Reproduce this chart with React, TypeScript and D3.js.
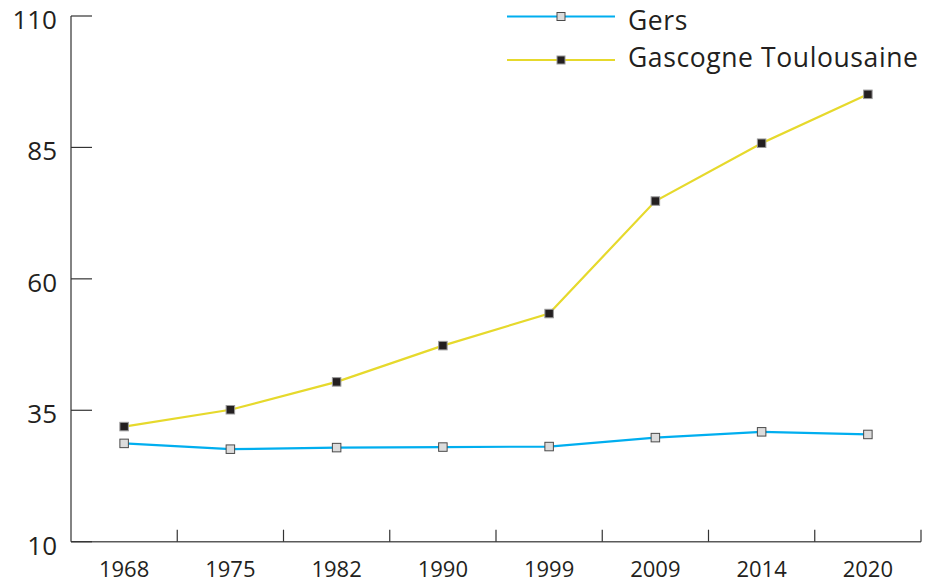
import * as d3 from 'd3';

const YEARS = ['1968', '1975', '1982', '1990', '1999', '2009', '2014', '2020'];
const GERS = [28.7, 27.6, 27.9, 28.0, 28.1, 29.8, 30.9, 30.4];
const GASCOGNE = [31.9, 35.1, 40.4, 47.3, 53.4, 74.8, 85.8, 95.1];
const Y_TICKS = [10, 35, 60, 85, 110];

const WIDTH = 936;
const HEIGHT = 583;
const LEFT = 71;
const RIGHT = 921;
const TOP = 16;
const BOTTOM = 541.7;
const TEXT = '#231f20';
const FONT = '"Open Sans", "Noto Sans", sans-serif';

const series = [
  {name: 'Gers', values: GERS, stroke: '#00aeef', fill: '#dcdcdc', edge: '#4a4a4a', legendY: 16.5, textY: 29.8},
  {name: 'Gascogne Toulousaine', values: GASCOGNE, stroke: '#e6d92c', fill: '#231f20', edge: '#9a9a9a', legendY: 60, textY: 66.5},
];

export default function App() {
  const x = d3.scaleBand().domain(YEARS).range([LEFT, RIGHT]);
  const y = d3.scaleLinear().domain([10, 110]).range([BOTTOM, TOP]);
  const cx = (year: string) => (x(year) ?? 0) + x.bandwidth() / 2;

  const line = d3
    .line<number>()
    .x((_, i) => cx(YEARS[i]))
    .y((d) => y(d));

  const size = 8.5;

  return (
    <svg
      width={WIDTH}
      height={HEIGHT}
      style={{position: 'absolute', left: 0, top: 0}}
      fontFamily={FONT}
    >
      {/* axes */}
      <line x1={LEFT} x2={LEFT} y1={TOP} y2={BOTTOM} stroke="#5a5a5a" strokeWidth={1.5} />
      <line x1={LEFT} x2={RIGHT} y1={BOTTOM} y2={BOTTOM} stroke="#5a5a5a" strokeWidth={1.5} />
      {Y_TICKS.map((t) => (
        <g key={t}>
          <line x1={LEFT} x2={LEFT + 21} y1={y(t)} y2={y(t)} stroke="#333" strokeWidth={1.2} />
          <text x={LEFT - 14} y={y(t)} dy="0.5em" textAnchor="end" fontSize={26} fill={TEXT}>
            {t}
          </text>
        </g>
      ))}
      {YEARS.map((yr, i) => {
        const edge = (x(yr) ?? 0) + x.bandwidth();
        return (
          <g key={yr}>
            <line x1={edge} x2={edge} y1={BOTTOM} y2={BOTTOM - 12} stroke="#333" strokeWidth={1.2} />
            <text x={cx(yr)} y={BOTTOM + 35} textAnchor="middle" fontSize={22} fill={TEXT}>
              {YEARS[i]}
            </text>
          </g>
        );
      })}

      {/* series */}
      {series.map((s) => (
        <g key={s.name}>
          <path d={line(s.values)!} fill="none" stroke={s.stroke} strokeWidth={2.2} />
          {s.values.map((v, i) => (
            <rect
              key={i}
              x={cx(YEARS[i]) - size / 2}
              y={y(v) - size / 2}
              width={size}
              height={size}
              fill={s.fill}
              stroke={s.edge}
              strokeWidth={1}
            />
          ))}
        </g>
      ))}

      {/* legend */}
      {series.map((s) => (
        <g key={'lg' + s.name}>
          <line x1={507} x2={615} y1={s.legendY} y2={s.legendY} stroke={s.stroke} strokeWidth={2.2} />
          <rect x={561 - 4} y={s.legendY - 4} width={8} height={8} fill={s.fill} stroke={s.edge} strokeWidth={1} />
          <text x={628} y={s.textY} fontSize={26.5} letterSpacing={0.6} fill={TEXT}>
            {s.name}
          </text>
        </g>
      ))}
    </svg>
  );
}
